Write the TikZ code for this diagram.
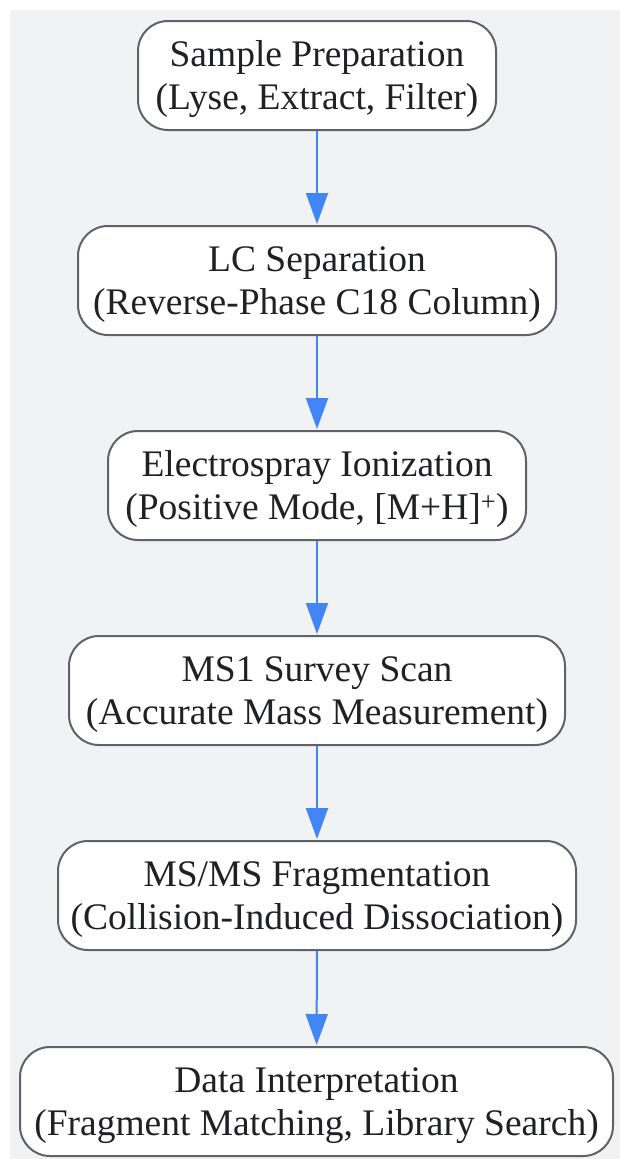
\documentclass[tikz,border=0pt]{standalone}
\usepackage{fontspec}
\setmainfont{Liberation Serif}
\usetikzlibrary{arrows.meta}
\definecolor{bgcol}{HTML}{F1F2F4}
\definecolor{boxline}{HTML}{5F6368}
\definecolor{txtcol}{HTML}{202124}
\definecolor{arrcol}{HTML}{4285F4}
\newcommand{\topfix}{\rule{0pt}{33.5pt}}
\tikzset{
  stagebox/.style={draw=boxline, line width=2pt, fill=white, rounded corners=30pt,
    minimum height=109pt, align=center, inner sep=0pt, text=txtcol,
    font=\fontsize{37.5}{43}\selectfont},
  flowarrow/.style={draw=arrcol, line width=2pt, -{Triangle[length=31pt,width=22pt]}, shorten >=1pt}
}
\begin{document}
\begin{tikzpicture}[x=1pt,y=-1pt]
\useasboundingbox (0,0) rectangle (620,1159);
\fill[bgcol] (10,10) rectangle (620,1159);
\node[stagebox, minimum width=358pt] (n1) at (317,75.5) {\topfix Sample Preparation\\(Lyse, Extract, Filter)};
\node[stagebox, minimum width=478pt] (n2) at (317,280.5) {\topfix LC Separation\\(Reverse-Phase C18 Column)};
\node[stagebox, minimum width=418pt] (n3) at (317,485.5) {\topfix Electrospray Ionization\\(Positive Mode, [M+H]\textsuperscript{+})};
\node[stagebox, minimum width=496pt] (n4) at (317,690.5) {\topfix MS1 Survey Scan\\(Accurate Mass Measurement)};
\node[stagebox, minimum width=518pt] (n5) at (317,895.5) {\topfix MS/MS Fragmentation\\(Collision-Induced Dissociation)};
\node[stagebox, minimum width=593pt] (n6) at (316.5,1101.5) {\topfix Data Interpretation\\(Fragment Matching, Library Search)};
\draw[flowarrow] (n1) -- (n2);
\draw[flowarrow] (n2) -- (n3);
\draw[flowarrow] (n3) -- (n4);
\draw[flowarrow] (n4) -- (n5);
\draw[flowarrow] (n5) -- (n6);
\end{tikzpicture}
\end{document}
